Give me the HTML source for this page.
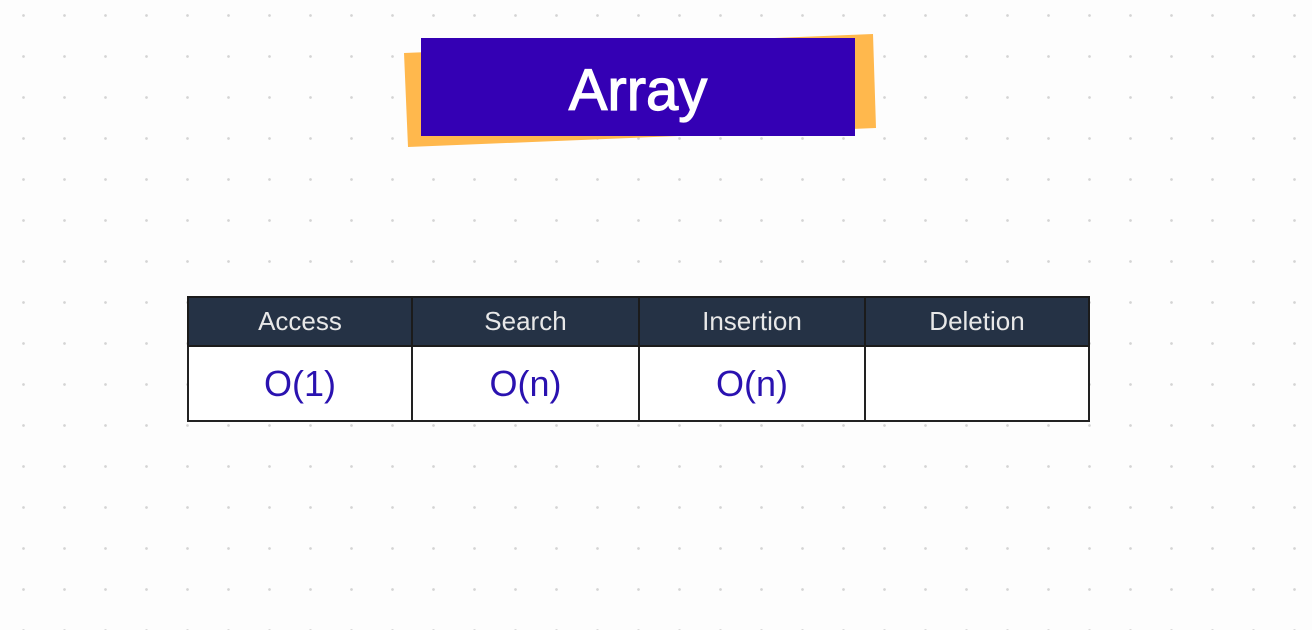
<!DOCTYPE html>
<html><head><style>
body{margin:0;width:1312px;height:630px;overflow:hidden;background:#fdfdfd;
background-image:radial-gradient(circle,#d4d4d4 1.1px,transparent 1.6px);background-size:41px 41px;background-position:3px -5px;font-family:"Liberation Sans",sans-serif;position:relative}
.t{position:absolute;left:421px;top:38px;width:434px;height:98px;background:#3400b4;color:#fff;font-size:58px;font-weight:normal;text-align:center;line-height:106px;-webkit-text-stroke:1.2px #fff}
table{position:absolute;left:187px;top:296px;border-collapse:collapse;width:903px}
td{border:2px solid #222;text-align:center;padding:0}
.h td{background:#253245;color:#e8e8e8;height:47px;font-size:26px;border-color:#1b1b1b}
.b td{height:73px;color:#2a12b0;font-size:36px;background:#fff}
</style></head><body>
<svg style="position:absolute;left:0;top:0" width="1312" height="630"><polygon points="404,53 873,34 876,128 408,147" fill="#ffb84d"/></svg>
<div class="t">Array</div>
<table>
<tr class="h"><td style="width:222px">Access</td><td style="width:225px">Search</td><td style="width:224px">Insertion</td><td>Deletion</td></tr>
<tr class="b"><td>O(1)</td><td>O(n)</td><td>O(n)</td><td></td></tr>
</table>
</body></html>
